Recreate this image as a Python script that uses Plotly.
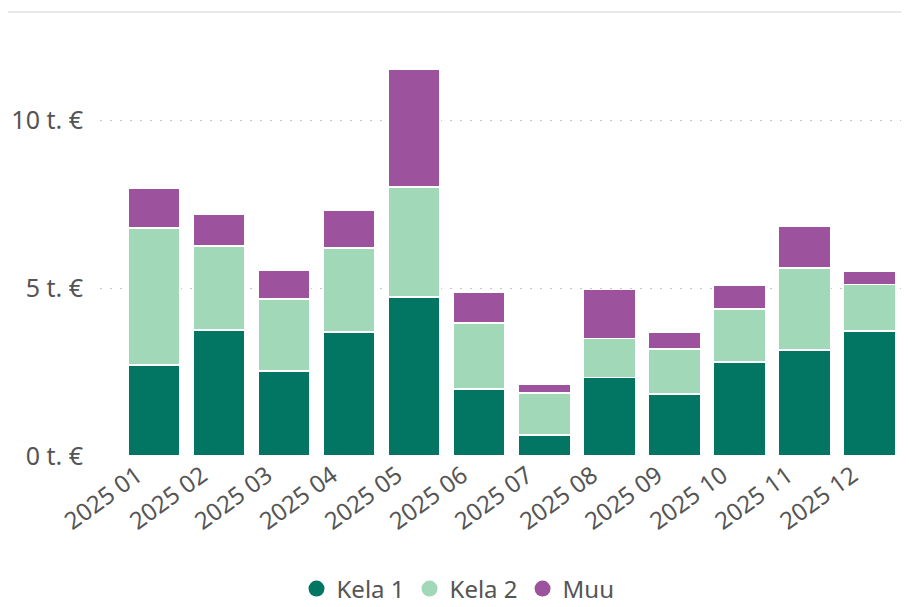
import plotly.graph_objects as go

months = ["2025 01", "2025 02", "2025 03", "2025 04", "2025 05", "2025 06",
          "2025 07", "2025 08", "2025 09", "2025 10", "2025 11", "2025 12"]
kela1 = [2.71, 3.75, 2.53, 3.69, 4.73, 1.99, 0.63, 2.33, 1.84, 2.80, 3.15, 3.72]
kela2 = [4.08, 2.50, 2.14, 2.50, 3.27, 1.97, 1.25, 1.17, 1.35, 1.58, 2.44, 1.38]
muu = [1.19, 0.95, 0.87, 1.13, 3.52, 0.92, 0.27, 1.46, 0.49, 0.71, 1.24, 0.41]

series_names = ["Kela 1", "Kela 2", "Muu"]
series_values = [kela1, kela2, muu]
series_colors = ["#027663", "#a1d8b7", "#9c529c"]

tick_vals = [0, 5, 10]
tick_text = ["0 t. €", "5 t. €", "10 t. €"]

FONT = "Segoe UI, Noto Sans, Liberation Sans, Arial, sans-serif"
TXT = "#555555"

fig = go.Figure()
for name, vals, col in zip(series_names, series_values, series_colors):
    fig.add_trace(go.Bar(
        x=months, y=vals, name=name, showlegend=False,
        marker=dict(color=col, line=dict(color="white", width=1.5)),
    ))
# legend entries with circle symbols
for name, col in zip(series_names, series_colors):
    fig.add_trace(go.Scatter(
        x=[None], y=[None], mode="markers", name=name,
        marker=dict(color=col, size=21, symbol="circle"),
    ))

# page has an 8px body margin; the figure is sized to fit inside the window
OFF = 8
W, H = 909 - OFF, 607 - OFF
ml, mr, mt, mb = 100 - OFF, 7, 36 - OFF, 151
plot_w = W - ml - mr
plot_h = H - mt - mb

fig.update_layout(
    width=W, height=H,
    barmode="stack", bargap=0.2,
    paper_bgcolor="white", plot_bgcolor="white",
    margin=dict(l=ml, r=mr, t=mt, b=mb, pad=0, autoexpand=False),
    font=dict(family=FONT, color=TXT, size=24),
    showlegend=True,
    legend=dict(
        orientation="h", x=(458 - OFF - ml) / plot_w, xanchor="center",
        y=-(589 - OFF - (H - mb)) / plot_h, yanchor="middle",
        font=dict(family=FONT, size=24, color=TXT),
        itemwidth=30, traceorder="normal", tracegroupgap=0,
        bgcolor="rgba(0,0,0,0)",
    ),
    xaxis=dict(
        range=[-0.83, 11.5], tickangle=-36, showgrid=False, zeroline=False,
        showline=False, ticks="", tickfont=dict(size=24, color=TXT),
        ticklabelshift=-17,
        fixedrange=True, automargin=False,
    ),
    yaxis=dict(
        range=[0, plot_h / 33.6], tickvals=tick_vals, ticktext=tick_text,
        showgrid=True, gridcolor="#c8c8c8", gridwidth=1, griddash="2px,8px",
        zeroline=False, showline=False, ticks="",
        tickfont=dict(size=25, color=TXT),
        ticklabelstandoff=16, fixedrange=True, automargin=False,
    ),
    shapes=[dict(
        type="line", xref="paper", yref="paper",
        x0=-ml / plot_w, x1=1 + mr / plot_w,
        y0=1 + (mt - (12 - OFF)) / plot_h, y1=1 + (mt - (12 - OFF)) / plot_h,
        line=dict(color="#e8e8e8", width=2),
    )],
)

fig.write_html("out.html")
